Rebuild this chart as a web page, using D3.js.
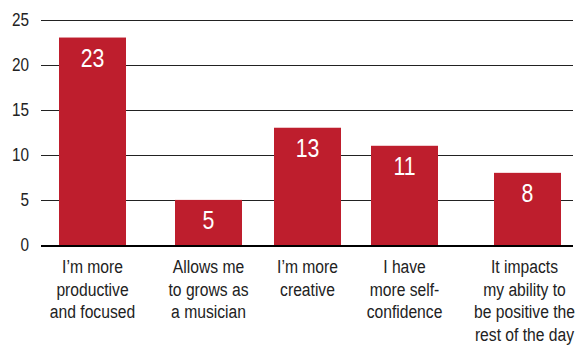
<html>
<head>
<meta charset="utf-8">
<script src="https://d3js.org/d3.v7.min.js"></script>
<style>
  body { margin: 0; background: #fff; }
  text { font-family: "Liberation Sans", Arial, sans-serif; }
</style>
</head>
<body>
<div id="chart"></div>
<script>

// data
var categories = [
  "I\u2019m more productive and focused",
  "Allows me to grows as a musician",
  "I\u2019m more creative",
  "I have more self-confidence",
  "It impacts my ability to be positive the rest of the day"
];
var labelLines = [
  ["I\u2019m more", "productive", "and focused"],
  ["Allows me", "to grows as", "a musician"],
  ["I\u2019m more", "creative"],
  ["I have", "more self-", "confidence"],
  ["It impacts", "my ability to", "be positive the", "rest of the day"]
];
var values = [23, 5, 13, 11, 8];
var yTicks = [0, 5, 10, 15, 20, 25];

var width = 579, height = 346;
var left = 41, right = 573;
var barW = 67;

var svg = d3.select("#chart").append("svg")
  .attr("width", width)
  .attr("height", height);

var y = d3.scaleLinear().domain([0, 25]).range([245, 19.5]);

// bar centres are spaced unevenly in the original
var x = d3.scaleOrdinal()
  .domain(categories)
  .range([92.5, 208.5, 307.5, 404.5, 527.5]);

// fake a condensed face by squeezing horizontally
function place(px, py, sx) {
  return "translate(" + px + "," + py + ") scale(" + sx + ",1)";
}

// gridlines
svg.append("g")
  .selectAll("line")
  .data(yTicks.filter(function(d) { return d > 0; }))
  .enter().append("line")
    .attr("x1", left).attr("x2", right)
    .attr("y1", function(d) { return Math.round(y(d)) + 0.5; })
    .attr("y2", function(d) { return Math.round(y(d)) + 0.5; })
    .attr("stroke", "#222")
    .attr("stroke-width", 1);

// tick labels
svg.append("g")
  .selectAll("text")
  .data(yTicks)
  .enter().append("text")
    .attr("transform", function(d) { return place(29, y(d) + 6, 0.85); })
    .attr("text-anchor", "end")
    .attr("font-size", 18)
    .attr("fill", "#222")
    .text(function(d) { return d; });

// bars
svg.append("g")
  .selectAll("rect")
  .data(values)
  .enter().append("rect")
    .attr("x", function(d, i) { return x(categories[i]) - barW / 2; })
    .attr("width", barW)
    .attr("y", function(d) { return y(d); })
    .attr("height", function(d) { return y(0) - y(d); })
    .attr("fill", "#be1e2d");

// value labels
svg.append("g")
  .selectAll("text")
  .data(values)
  .enter().append("text")
    .attr("transform", function(d, i) { return place(x(categories[i]), y(d) + 29, 0.82); })
    .attr("text-anchor", "middle")
    .attr("font-size", 26)
    .attr("fill", "#fff")
    .text(function(d) { return d; });

// baseline
svg.append("line")
  .attr("x1", left).attr("x2", right)
  .attr("y1", y(0) + 1).attr("y2", y(0) + 1)
  .attr("stroke", "#000")
  .attr("stroke-width", 2);

// category labels
var cat = svg.append("g")
  .selectAll("text")
  .data(labelLines)
  .enter().append("text")
    .attr("transform", function(d, i) {
      return place(Math.min(x(categories[i]), 524.5), 273, 0.87);
    })
    .attr("text-anchor", "middle")
    .attr("font-size", 18)
    .attr("fill", "#222");

cat.selectAll("tspan")
  .data(function(d) { return d; })
  .enter().append("tspan")
    .attr("x", 0)
    .attr("dy", function(d, i) { return i === 0 ? 0 : 22.6; })
    .text(function(d) { return d; });

</script>
</body>
</html>
